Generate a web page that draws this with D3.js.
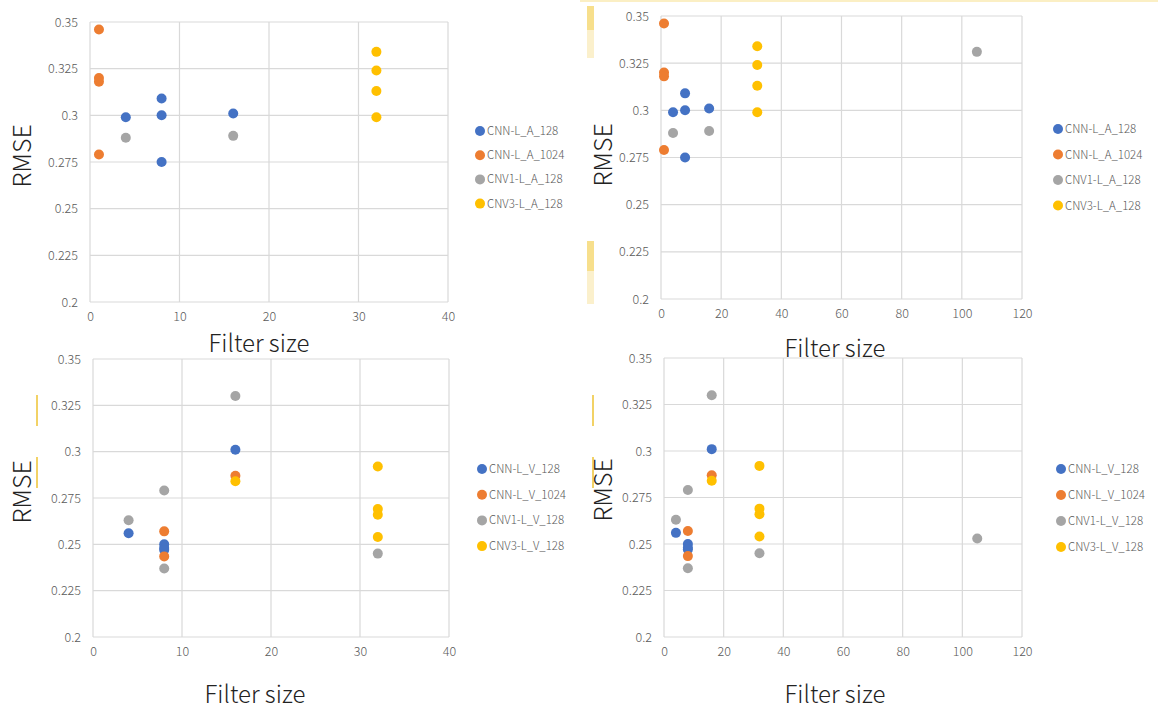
<!DOCTYPE html>
<html>
<head>
<meta charset="utf-8">
<script src="https://cdn.jsdelivr.net/npm/d3@7"></script>
<style>
  body { margin: 0; background: #fff; }
  svg { display: block; font-family: "Noto Sans CJK JP", "Noto Sans", sans-serif; font-weight: 300; }
</style>
</head>
<body>
<svg id="chart" width="1158" height="709"></svg>
<script>
// ---- data ----
const namesA = ["CNN-L_A_128", "CNN-L_A_1024", "CNV1-L_A_128", "CNV3-L_A_128"];
const namesV = ["CNN-L_V_128", "CNN-L_V_1024", "CNV1-L_V_128", "CNV3-L_V_128"];
const colors = ["#4472C4", "#ED7D31", "#A5A5A5", "#FFC000"];

const yTicks = [0.2, 0.225, 0.25, 0.275, 0.3, 0.325, 0.35];
const xTicksNarrow = [0, 10, 20, 30, 40];
const xTicksWide = [0, 20, 40, 60, 80, 100, 120];

// [filter size, RMSE]
const cnnA128 = [[4, 0.299], [8, 0.309], [8, 0.300], [8, 0.275], [16, 0.301]];
const cnnA1024 = [[1, 0.346], [1, 0.320], [1, 0.318], [1, 0.279]];
const cnv1A128 = [[4, 0.288], [16, 0.289]];
const cnv1A128Extra = [[105, 0.331]];
const cnv3A128 = [[32, 0.334], [32, 0.324], [32, 0.313], [32, 0.299]];

const cnnV128 = [[4, 0.256], [8, 0.250], [8, 0.248], [8, 0.247], [16, 0.301]];
const cnnV1024 = [[8, 0.257], [8, 0.2435], [16, 0.287]];
const cnv1V128 = [[4, 0.263], [8, 0.279], [8, 0.237], [16, 0.330], [32, 0.245]];
const cnv1V128Extra = [[105, 0.253]];
const cnv3V128 = [[16, 0.284], [32, 0.292], [32, 0.269], [32, 0.266], [32, 0.254]];

// ---- panels ----
const panels = [
  { x0: 90, x1: 448, y0: 22, y1: 302, xMax: 40, xTicks: xTicksNarrow,
    names: namesA, series: [cnnA128, cnnA1024, cnv1A128, cnv3A128],
    legX: 480, legY: 131, legStep: 24.2, rmse: [22, 156], fs: [259, 352] },
  { x0: 661, x1: 1022, y0: 16, y1: 299, xMax: 120, xTicks: xTicksWide,
    names: namesA, series: [cnnA128, cnnA1024, cnv1A128.concat(cnv1A128Extra), cnv3A128],
    legX: 1058, legY: 129, legStep: 25.5, rmse: [603, 155], fs: [835, 357] },
  { x0: 93, x1: 449, y0: 359, y1: 637, xMax: 40, xTicks: xTicksNarrow,
    names: namesV, series: [cnnV128, cnnV1024, cnv1V128, cnv3V128],
    legX: 482, legY: 469, legStep: 25.7, rmse: [22, 492], fs: [255, 703] },
  { x0: 664, x1: 1022, y0: 358, y1: 637, xMax: 120, xTicks: xTicksWide,
    names: namesV, series: [cnnV128, cnnV1024, cnv1V128.concat(cnv1V128Extra), cnv3V128],
    legX: 1061, legY: 469, legStep: 26, rmse: [603, 490], fs: [835, 703] }
];

const svg = d3.select("#chart");

// faint yellow leftovers from the original screenshot
const marks = svg.append("g");
marks.append("rect").attr("x", 580).attr("y", 0).attr("width", 578).attr("height", 2).attr("fill", "#fbefc4");
[[587, 6, 24, "#f7df8c"], [587, 30, 28, "#fbf0cc"], [587, 241, 30, "#f7df8c"], [587, 271, 33, "#fbf0cc"]]
  .forEach(r => marks.append("rect").attr("x", r[0]).attr("y", r[1]).attr("width", 7).attr("height", r[2]).attr("fill", r[3]));
[[37, 395, 31], [37, 457, 31], [593, 395, 31], [593, 457, 31]]
  .forEach(r => marks.append("rect").attr("x", r[0] - 1).attr("y", r[1]).attr("width", 2).attr("height", r[2]).attr("fill", "#f2d266"));

panels.forEach(p => {
  const x = d3.scaleLinear().domain([0, p.xMax]).range([p.x0, p.x1]);
  const y = d3.scaleLinear().domain([0.2, 0.35]).range([p.y1, p.y0]);
  const g = svg.append("g");

  // grid
  g.selectAll(".hg").data(yTicks).enter().append("line")
    .attr("x1", p.x0).attr("x2", p.x1)
    .attr("y1", d => y(d)).attr("y2", d => y(d))
    .attr("stroke", "#d9d9d9").attr("stroke-width", 1.2);
  g.selectAll(".vg").data(p.xTicks).enter().append("line")
    .attr("x1", d => x(d)).attr("x2", d => x(d))
    .attr("y1", p.y0).attr("y2", p.y1)
    .attr("stroke", "#d9d9d9").attr("stroke-width", 1.2);

  // axis labels
  const ya = g.append("g")
    .attr("transform", "translate(" + p.x0 + ",0)")
    .call(d3.axisLeft(y).tickValues(yTicks).tickSize(0).tickPadding(12)
      .tickFormat(d => String(+d.toFixed(3))));
  ya.select(".domain").remove();
  ya.selectAll("text").attr("font-size", 12.5).attr("fill", "#595959")
    .attr("font-family", "'Noto Sans CJK JP', 'Noto Sans', sans-serif");

  const xa = g.append("g")
    .attr("transform", "translate(0," + p.y1 + ")")
    .call(d3.axisBottom(x).tickValues(p.xTicks).tickSize(0).tickPadding(10));
  xa.select(".domain").remove();
  xa.selectAll("text").attr("font-size", 12.5).attr("fill", "#595959")
    .attr("font-family", "'Noto Sans CJK JP', 'Noto Sans', sans-serif");

  // points
  p.series.forEach((s, i) => {
    g.selectAll(".pt" + i).data(s).enter().append("circle")
      .attr("cx", d => x(d[0]))
      .attr("cy", d => y(d[1]))
      .attr("r", 5)
      .attr("fill", colors[i]);
  });

  // legend
  p.names.forEach((n, i) => {
    const ly = p.legY + i * p.legStep;
    g.append("circle").attr("cx", p.legX).attr("cy", ly).attr("r", 5).attr("fill", colors[i]);
    g.append("text").attr("x", p.legX + 7).attr("y", ly).attr("dy", "0.35em")
      .attr("font-size", 11.5).attr("fill", "#595959").text(n);
  });

  // axis titles
  g.append("text")
    .attr("transform", "translate(" + p.rmse[0] + "," + p.rmse[1] + ") rotate(-90)")
    .attr("text-anchor", "middle").attr("dy", "0.35em")
    .attr("font-size", 25).attr("fill", "#222")
    .text("RMSE");
  g.append("text")
    .attr("x", p.fs[0]).attr("y", p.fs[1])
    .attr("text-anchor", "middle")
    .attr("font-size", 24).attr("fill", "#222")
    .text("Filter size");
});
</script>
</body>
</html>
